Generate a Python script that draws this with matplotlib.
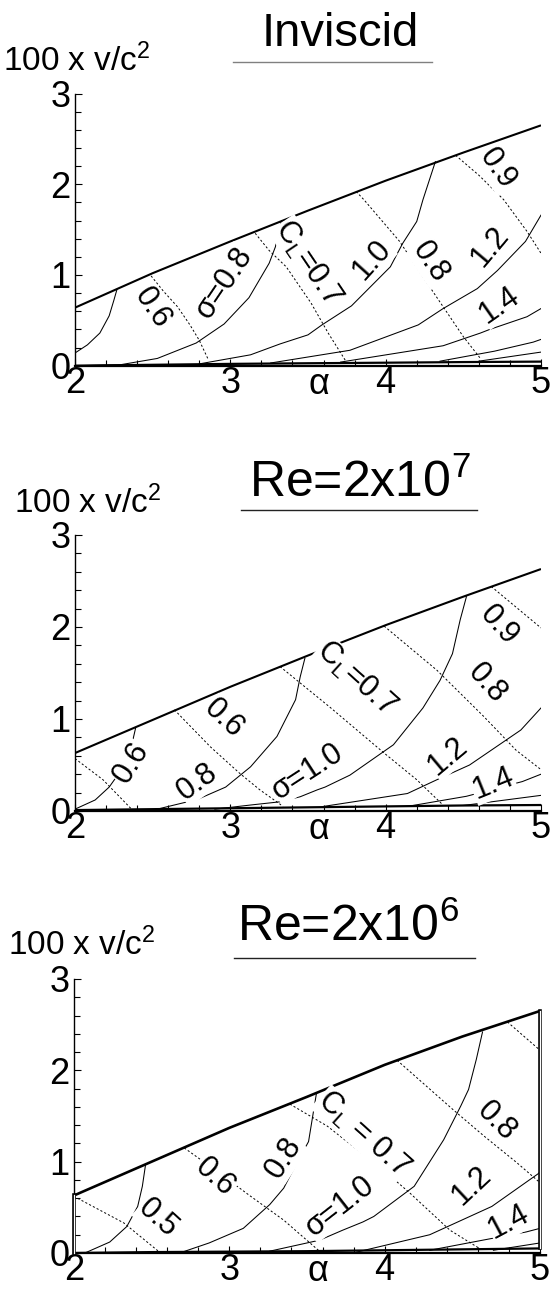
import matplotlib
matplotlib.use("Agg")
import matplotlib.pyplot as plt
from matplotlib.ticker import MultipleLocator
from matplotlib.lines import Line2D
import matplotlib.patheffects as pe

plt.rcParams["font.family"] = ["Liberation Sans", "DejaVu Sans"]
plt.rcParams["mathtext.fontset"] = "custom"
plt.rcParams["mathtext.rm"] = "Liberation Sans"
plt.rcParams["mathtext.it"] = "Liberation Sans:italic"
plt.rcParams["mathtext.bf"] = "Liberation Sans:bold"
plt.rcParams["mathtext.default"] = "regular"

W, H = 553, 1295

# ---------------- Inviscid ----------------
inv_alpha = [2.0, 2.5, 3.0, 3.5, 4.0, 4.5, 5.0]
inv_upper = [0.64, 1.02, 1.37, 1.71, 2.04, 2.35, 2.65]
inv_lower = [0.0, 0.01, 0.02, 0.027, 0.033, 0.04, 0.045]

inv_sig06_a = [2.0, 2.08, 2.16, 2.22, 2.25, 2.27]
inv_sig06_v = [0.14, 0.23, 0.36, 0.55, 0.72, 0.84]
inv_sig08_a = [2.0, 2.29, 2.53, 2.78, 2.96, 3.12, 3.25, 3.29, 3.32, 3.33]
inv_sig08_v = [0.0, 0.01, 0.08, 0.25, 0.46, 0.75, 1.13, 1.31, 1.55, 1.60]
inv_sig10_a = [2.80, 3.13, 3.32, 3.50, 3.59, 3.78, 4.03, 4.11, 4.20, 4.24, 4.32]
inv_sig10_v = [0.02, 0.12, 0.24, 0.34, 0.45, 0.66, 1.09, 1.35, 1.59, 1.83, 2.25]
inv_sig12_a = [3.26, 3.77, 4.21, 4.37, 4.59, 4.72, 4.90, 5.0]
inv_sig12_v = [0.03, 0.17, 0.45, 0.63, 0.85, 1.05, 1.37, 1.66]
inv_sig14_a = [3.71, 4.37, 4.61, 4.67, 4.91, 5.0]
inv_sig14_v = [0.04, 0.22, 0.36, 0.40, 0.54, 0.63]
inv_sig16_a = [4.35, 4.70, 4.95, 5.0]
inv_sig16_v = [0.05, 0.16, 0.26, 0.29]
inv_sig18_a = [4.60, 5.0]
inv_sig18_v = [0.05, 0.15]

inv_cl06_a = [2.49, 2.57, 2.66, 2.74, 2.80, 2.86]
inv_cl06_v = [0.99, 0.82, 0.65, 0.45, 0.28, 0.06]
inv_cl07_a = [3.16, 3.25, 3.36, 3.52, 3.63, 3.74]
inv_cl07_v = [1.46, 1.27, 1.09, 0.69, 0.36, 0.06]
inv_cl08_a = [3.81, 3.86, 4.09, 4.24, 4.37, 4.50, 4.61]
inv_cl08_v = [1.92, 1.83, 1.37, 0.98, 0.65, 0.32, 0.08]
inv_cl09_a = [4.45, 4.60, 4.76, 4.91, 5.0]
inv_cl09_v = [2.32, 2.10, 1.83, 1.48, 1.24]

inv_labels = ["0.6", "σ=0.8", "C$_L$=0.7", "1.0", "0.8", "1.2", "1.4", "0.9"]

# ---------------- Re = 2x10^7 ----------------
re7_alpha = [2.0, 2.5, 3.0, 3.5, 4.0, 4.5, 5.0]
re7_upper = [0.63, 0.99, 1.35, 1.69, 2.02, 2.33, 2.63]
re7_lower = [0.01, 0.02, 0.03, 0.04, 0.05, 0.06, 0.065]

re7_sig06_a = [2.0, 2.13, 2.22, 2.30, 2.36, 2.39]
re7_sig06_v = [0.02, 0.12, 0.26, 0.45, 0.68, 0.90]
re7_sig08_a = [2.48, 2.70, 2.78, 2.97, 3.13, 3.30, 3.42, 3.45, 3.48]
re7_sig08_v = [0.0, 0.09, 0.12, 0.26, 0.48, 0.81, 1.21, 1.46, 1.66]
re7_sig10_a = [2.90, 3.13, 3.32, 3.45, 3.56, 3.61, 3.77, 4.05, 4.24, 4.35, 4.43, 4.48, 4.52]
re7_sig10_v = [0.02, 0.065, 0.10, 0.155, 0.23, 0.26, 0.39, 0.72, 1.12, 1.42, 1.71, 2.08, 2.33]
re7_sig12_a = [3.60, 4.14, 4.33, 4.54, 4.87, 5.0]
re7_sig12_v = [0.05, 0.19, 0.34, 0.50, 0.88, 1.12]
re7_sig14_a = [4.14, 4.52, 4.88, 5.0]
re7_sig14_v = [0.05, 0.16, 0.32, 0.40]
re7_sig16_a = [4.50, 5.0]
re7_sig16_v = [0.06, 0.17]

re7_cl05_a = [2.0, 2.18, 2.37]
re7_cl05_v = [0.57, 0.34, 0.01]
re7_cl06_a = [2.64, 2.87, 3.06, 3.19, 3.34]
re7_cl06_v = [1.10, 0.70, 0.41, 0.23, 0.05]
re7_cl07_a = [3.32, 3.64, 3.99, 4.20, 4.36]
re7_cl07_v = [1.57, 1.13, 0.63, 0.34, 0.08]
re7_cl08_a = [3.99, 4.33, 4.63, 4.84, 5.0]
re7_cl08_v = [2.01, 1.53, 1.03, 0.66, 0.45]
re7_cl09_a = [4.68, 5.0]
re7_cl09_v = [2.44, 1.99]

re7_labels = ["0.6", "0.6", "0.8", "σ=1.0", "C$_L$=0.7", "1.2", "1.4", "0.8", "0.9"]

# ---------------- Re = 2x10^6 ----------------
re6_alpha = [2.0, 2.5, 3.0, 3.5, 4.0, 4.5, 5.0]
re6_upper = [0.63, 1.00, 1.37, 1.71, 2.06, 2.37, 2.65]
re6_lower = [0.0, 0.01, 0.015, 0.02, 0.03, 0.04, 0.05]

re6_sig05_a = [2.07, 2.23, 2.34, 2.41, 2.44, 2.46]
re6_sig05_v = [0.0, 0.12, 0.29, 0.51, 0.73, 0.96]
re6_sig08_a = [2.68, 2.87, 3.09, 3.26, 3.35, 3.43, 3.51, 3.56]
re6_sig08_v = [0.0, 0.11, 0.27, 0.53, 0.71, 0.97, 1.22, 1.74]
re6_sig10_a = [3.26, 3.58, 3.73, 3.86, 3.93, 4.19, 4.38, 4.49, 4.54, 4.59, 4.63]
re6_sig10_v = [0.02, 0.14, 0.25, 0.34, 0.40, 0.73, 1.24, 1.61, 1.79, 2.12, 2.42]
re6_sig12_a = [3.82, 4.29, 4.69, 4.99, 5.0]
re6_sig12_v = [0.01, 0.20, 0.51, 0.87, 0.89]
re6_sig14_a = [4.29, 4.63, 4.91, 5.0]
re6_sig14_v = [0.03, 0.14, 0.23, 0.27]
re6_sig16_a = [4.70, 5.0]
re6_sig16_v = [0.03, 0.11]

re6_cl05_a = [2.0, 2.32, 2.55]
re6_cl05_v = [0.62, 0.33, 0.01]
re6_cl06_a = [2.71, 2.90, 3.13, 3.35, 3.58]
re6_cl06_v = [1.15, 0.92, 0.63, 0.36, 0.02]
re6_cl07_a = [3.39, 3.63, 3.99, 4.16, 4.42, 4.61]
re6_cl07_v = [1.63, 1.39, 0.91, 0.66, 0.25, 0.05]
re6_cl08_a = [4.08, 4.44, 4.64, 4.85, 5.0]
re6_cl08_v = [2.11, 1.57, 1.28, 0.99, 0.77]
re6_cl09_a = [4.79, 5.0]
re6_cl09_v = [2.53, 2.22]

re6_labels = ["0.5", "0.6", "0.8", "σ=1.0", "C$_L$ = 0.7", "0.8", "1.2", "1.4"]

x_ticks = [2, 3, 4, 5]
y_ticks = [0, 1, 2, 3]
y_label = "100 x v/c$^2$"
x_label = "α"
titles = ["Inviscid", "Re=2x10$^7$", "Re=2x10$^6$"]

TICK_FS = 26
LABEL_FS = 22


def fx(px):
    return px / W


def fy(py):
    return 1 - py / H


fig = plt.figure(figsize=(W / 100, H / 100), dpi=100)

# axes boxes in pixels: left, right, y-pixel of value 0, y-pixel of value 3
boxes = [(75, 541, 365.7, 93.6), (75, 541, 811, 535), (74, 540, 1253, 979)]


def make_axes(box):
    l, r, b, t = box
    ax = fig.add_axes([fx(l), fy(b), (r - l) / W, (b - t) / H])
    ax.set_xlim(2, 5)
    ax.set_ylim(0, 3)
    for s in ("top", "right"):
        ax.spines[s].set_visible(False)
    ax.spines["left"].set_linewidth(1.0)
    ax.spines["bottom"].set_linewidth(1.6)
    ax.set_xticks(x_ticks)
    ax.set_yticks(y_ticks)
    ax.xaxis.set_minor_locator(MultipleLocator(0.2))
    ax.yaxis.set_minor_locator(MultipleLocator(0.2))
    ax.tick_params(which="both", direction="in", width=0.8, colors="black")
    ax.tick_params(which="major", length=5)
    ax.tick_params(which="minor", length=4)
    ax.tick_params(axis="x", which="major", labelsize=TICK_FS, pad=0)
    ax.tick_params(axis="y", which="major", labelsize=TICK_FS, pad=3)
    ax.patch.set_alpha(0)
    ax.text(0.523, -0.004, x_label, transform=ax.transAxes, ha="center",
            va="top", fontsize=TICK_FS)
    return ax


def draw(ax, alpha, upper, lower, sig, cl, upper_lw=1.5):
    ax.plot(alpha, upper, color="black", lw=upper_lw, solid_capstyle="butt")
    ax.plot(alpha, lower, color="black", lw=1.6)
    for a, v in sig:
        ax.plot(a, v, color="black", lw=0.75)
    for a, v in cl:
        ax.plot(a, v, color="black", lw=0.7, dashes=(2.2, 2.2))


def put_labels(ax, texts, places, size=LABEL_FS):
    for t, (x, y, rot) in zip(texts, places):
        ax.text(x, y, t, rotation=rot, rotation_mode="anchor", ha="center",
                va="center", fontsize=size, zorder=5,
                bbox=dict(fc="white", ec="none", pad=0.4))


# --- panel 1 ---
ax1 = make_axes(boxes[0])
draw(ax1, inv_alpha, inv_upper, inv_lower,
     [(inv_sig06_a, inv_sig06_v), (inv_sig08_a, inv_sig08_v),
      (inv_sig10_a, inv_sig10_v), (inv_sig12_a, inv_sig12_v),
      (inv_sig14_a, inv_sig14_v), (inv_sig16_a, inv_sig16_v),
      (inv_sig18_a, inv_sig18_v)],
     [(inv_cl06_a, inv_cl06_v), (inv_cl07_a, inv_cl07_v),
      (inv_cl08_a, inv_cl08_v), (inv_cl09_a, inv_cl09_v)])
put_labels(ax1, inv_labels,
           [(2.50, 0.63, -56), (2.96, 0.91, 56), (3.50, 1.13, -56),
            (3.91, 1.17, 48), (4.29, 1.14, -56), (4.67, 1.31, 50),
            (4.73, 0.67, 35), (4.72, 2.17, -55)])

# --- panel 2 ---
ax2 = make_axes(boxes[1])
draw(ax2, re7_alpha, re7_upper, re7_lower,
     [(re7_sig06_a, re7_sig06_v), (re7_sig08_a, re7_sig08_v),
      (re7_sig10_a, re7_sig10_v), (re7_sig12_a, re7_sig12_v),
      (re7_sig14_a, re7_sig14_v), (re7_sig16_a, re7_sig16_v)],
     [(re7_cl05_a, re7_cl05_v), (re7_cl06_a, re7_cl06_v),
      (re7_cl07_a, re7_cl07_v), (re7_cl08_a, re7_cl08_v),
      (re7_cl09_a, re7_cl09_v)])
put_labels(ax2, re7_labels,
           [(2.36, 0.52, 58), (2.96, 1.00, -43), (2.79, 0.32, 36),
            (3.50, 0.43, 33), (3.81, 1.44, -42), (4.40, 0.60, 40),
            (4.69, 0.30, 22), (4.65, 1.39, -48), (4.73, 2.02, -48)])

# --- panel 3 ---
ax3 = make_axes(boxes[2])
draw(ax3, re6_alpha, re6_upper, re6_lower,
     [(re6_sig05_a, re6_sig05_v), (re6_sig08_a, re6_sig08_v),
      (re6_sig10_a, re6_sig10_v), (re6_sig12_a, re6_sig12_v),
      (re6_sig14_a, re6_sig14_v), (re6_sig16_a, re6_sig16_v)],
     [(re6_cl05_a, re6_cl05_v), (re6_cl06_a, re6_cl06_v),
      (re6_cl07_a, re6_cl07_v), (re6_cl08_a, re6_cl08_v),
      (re6_cl09_a, re6_cl09_v)], upper_lw=1.9)
# closing edges of the region drawn as double rules
for i in (0, -1):
    ax3.plot([re6_alpha[i], re6_alpha[i]], [re6_lower[i], re6_upper[i]],
             color="white", lw=0.9, clip_on=False, zorder=4,
             path_effects=[pe.withStroke(linewidth=2.6, foreground="black")])
put_labels(ax3, re6_labels,
           [(2.54, 0.38, -42), (2.91, 0.83, -42), (3.35, 1.04, 57),
            (3.71, 0.51, 38), (3.86, 1.30, -42), (4.72, 1.44, -45),
            (4.56, 0.74, 43), (4.80, 0.34, 28)])

# --- titles, underlines and y labels ---
title_pos = [(340, 46, 34), (360, 497, 36), (348, 941, 36)]
rule_pos = [(233, 432, 62, "#808080"), (241, 477, 510, "#222222"),
            (234, 475, 957.7, "#222222")]
ylab_pos = [(3, 71), (14, 513), (8, 955)]
for t, (cx, by, fs), (x0, x1, ry, col), (lx, ly) in zip(titles, title_pos,
                                                        rule_pos, ylab_pos):
    fig.text(fx(cx), fy(by), t, ha="center", va="baseline", fontsize=fs)
    fig.add_artist(Line2D([fx(x0), fx(x1)], [fy(ry), fy(ry)], color=col,
                          lw=1.0, transform=fig.transFigure))
    fig.text(fx(lx), fy(ly), y_label, ha="left", va="baseline", fontsize=24)

fig.savefig("out.png", dpi=100)
